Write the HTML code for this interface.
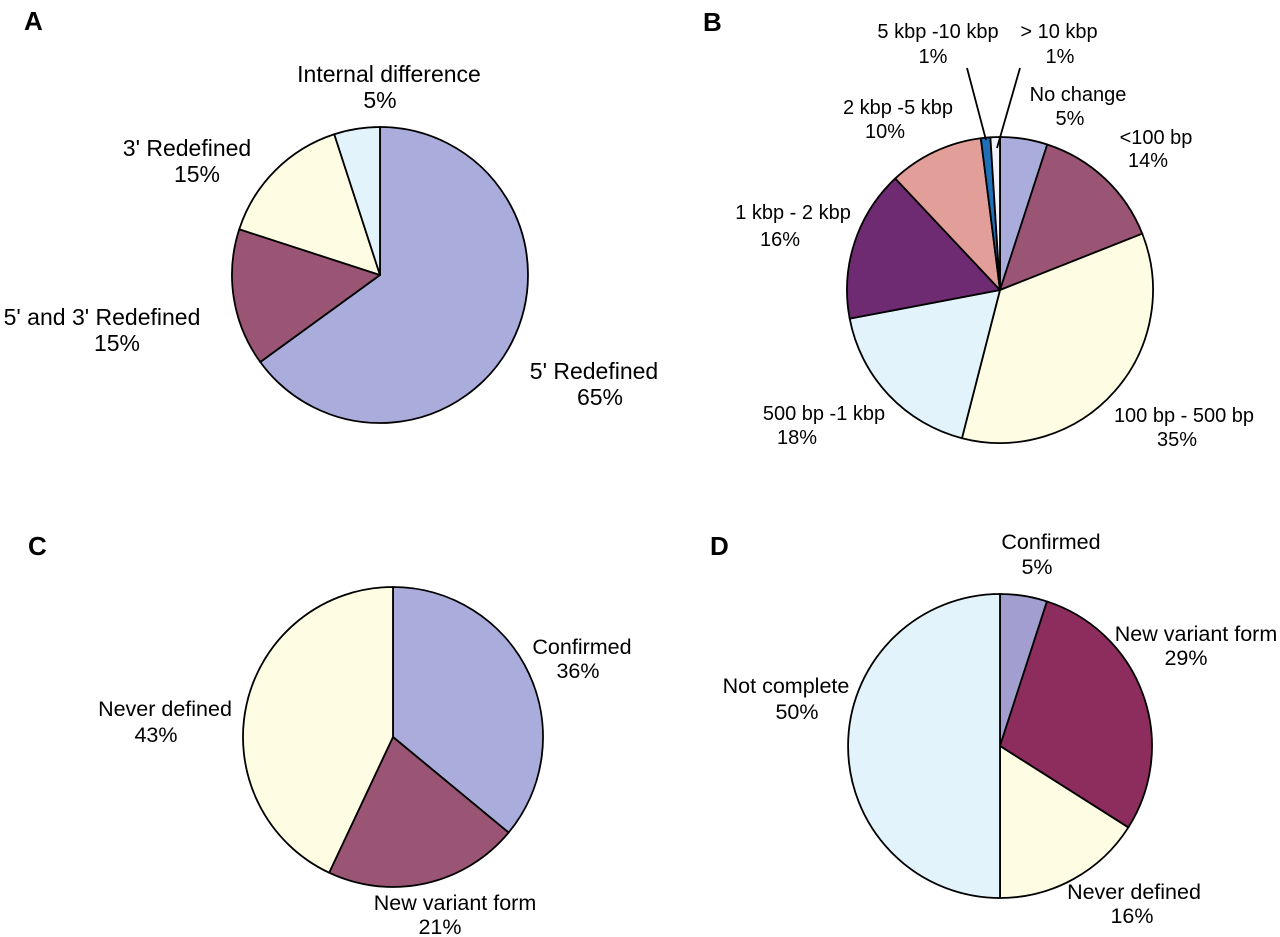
<!DOCTYPE html>
<html><head><meta charset="utf-8"><style>
body{margin:0;background:#fff;}
svg{display:block;font-family:"Liberation Sans",Arial,sans-serif;}
</style></head><body>
<svg id="chart" width="1280" height="937" viewBox="0 0 1280 937">
<g font-size="26" font-weight="bold" fill="#000">
<text x="24" y="30">A</text>
<text x="703" y="31">B</text>
<text x="28" y="555">C</text>
<text x="710" y="555">D</text>
</g>
<g id="pies"></g>
<g fill="#000" text-anchor="middle">
<g font-size="23">
<text x="389" y="82">Internal difference</text><text x="380" y="108">5%</text>
<text x="187" y="156">3' Redefined</text><text x="197" y="182">15%</text>
<text x="102" y="325">5' and 3' Redefined</text><text x="117" y="351">15%</text>
<text x="594" y="379">5' Redefined</text><text x="600" y="405">65%</text>
</g>
<g font-size="20">
<text x="938" y="38">5 kbp -10 kbp</text><text x="933" y="63">1%</text>
<text x="1059" y="38">&gt; 10 kbp</text><text x="1060" y="63">1%</text>
<text x="1078" y="101">No change</text><text x="1070" y="125">5%</text>
<text x="1156" y="144">&lt;100 bp</text><text x="1148" y="167">14%</text>
<text x="898" y="114">2 kbp -5 kbp</text><text x="885" y="138">10%</text>
<text x="793" y="219">1 kbp - 2 kbp</text><text x="780" y="246">16%</text>
<text x="824" y="420">500 bp -1 kbp</text><text x="797" y="444">18%</text>
<text x="1184" y="422">100 bp - 500 bp</text><text x="1177" y="446">35%</text>
</g>
<g font-size="21.5">
<text x="582" y="654">Confirmed</text><text x="578" y="678">36%</text>
<text x="165" y="716">Never defined</text><text x="156" y="742">43%</text>
<text x="455" y="910">New variant form</text><text x="440" y="934">21%</text>
</g>
<g font-size="21.5">
<text x="1051" y="549">Confirmed</text><text x="1037" y="574">5%</text>
<text x="1196" y="641">New variant form</text><text x="1186" y="665">29%</text>
<text x="786" y="693">Not complete</text><text x="797" y="719">50%</text>
<text x="1134" y="899">Never defined</text><text x="1132" y="923">16%</text>
</g>
</g>
<g stroke="#000" stroke-width="1.8">
<line x1="967" y1="68" x2="986" y2="140"/>
<line x1="1020" y1="68" x2="997" y2="148"/>
</g>
</svg>
<script>
const aCats=["5' Redefined","5' and 3' Redefined","3' Redefined","Internal difference"];
const aVals=[65,15,15,5];
const aColors=["#aaacdb","#9a5474","#fefde3","#e3f3fb"];
const bCats=["No change","<100 bp","100 bp - 500 bp","500 bp -1 kbp","1 kbp - 2 kbp","2 kbp -5 kbp","5 kbp -10 kbp","> 10 kbp"];
const bVals=[5,14,35,18,16,10,1,1];
const bColors=["#aaacdb","#9a5474","#fefde3","#e3f3fb","#6f2b72","#e29e98","#1f6fb8","#f2f2fa"];
const cCats=["Confirmed","New variant form","Never defined"];
const cVals=[36,21,43];
const cColors=["#aaacdb","#9a5474","#fefde3"];
const dCats=["Confirmed","New variant form","Never defined","Not complete"];
const dVals=[5,29,16,50];
const dColors=["#a29ed0","#8c2d5e","#fefde3","#e3f3fb"];
const NS="http://www.w3.org/2000/svg";
const root=document.getElementById('pies');
function pie(name,cx,cy,r,cats,vals,colors){
  const g=document.createElementNS(NS,'g');
  
  
  root.appendChild(g);
  const total=vals.reduce((s,v)=>s+v,0);
  let acc=0;
  vals.forEach((v,i)=>{
    const a0=acc/total*2*Math.PI; acc+=v; const a1=acc/total*2*Math.PI;
    const x0=cx+r*Math.sin(a0),y0=cy-r*Math.cos(a0),x1=cx+r*Math.sin(a1),y1=cy-r*Math.cos(a1);
    const p=document.createElementNS(NS,'path');
    p.setAttribute('d',`M${cx},${cy}L${x0},${y0}A${r},${r} 0 ${a1-a0>Math.PI?1:0} 1 ${x1},${y1}Z`);
    p.setAttribute('fill',colors[i]);p.setAttribute('stroke','#000');p.setAttribute('stroke-width','1.8');
    p.setAttribute('stroke-linejoin','round');
    
    
    g.appendChild(p);
  });
}
pie('pie-a',380,275,148,aCats,aVals,aColors);
pie('pie-b',1000,290,153,bCats,bVals,bColors);
pie('pie-c',393,737,150,cCats,cVals,cColors);
pie('pie-d',1000,746,152,dCats,dVals,dColors);
</script>
</body></html>
